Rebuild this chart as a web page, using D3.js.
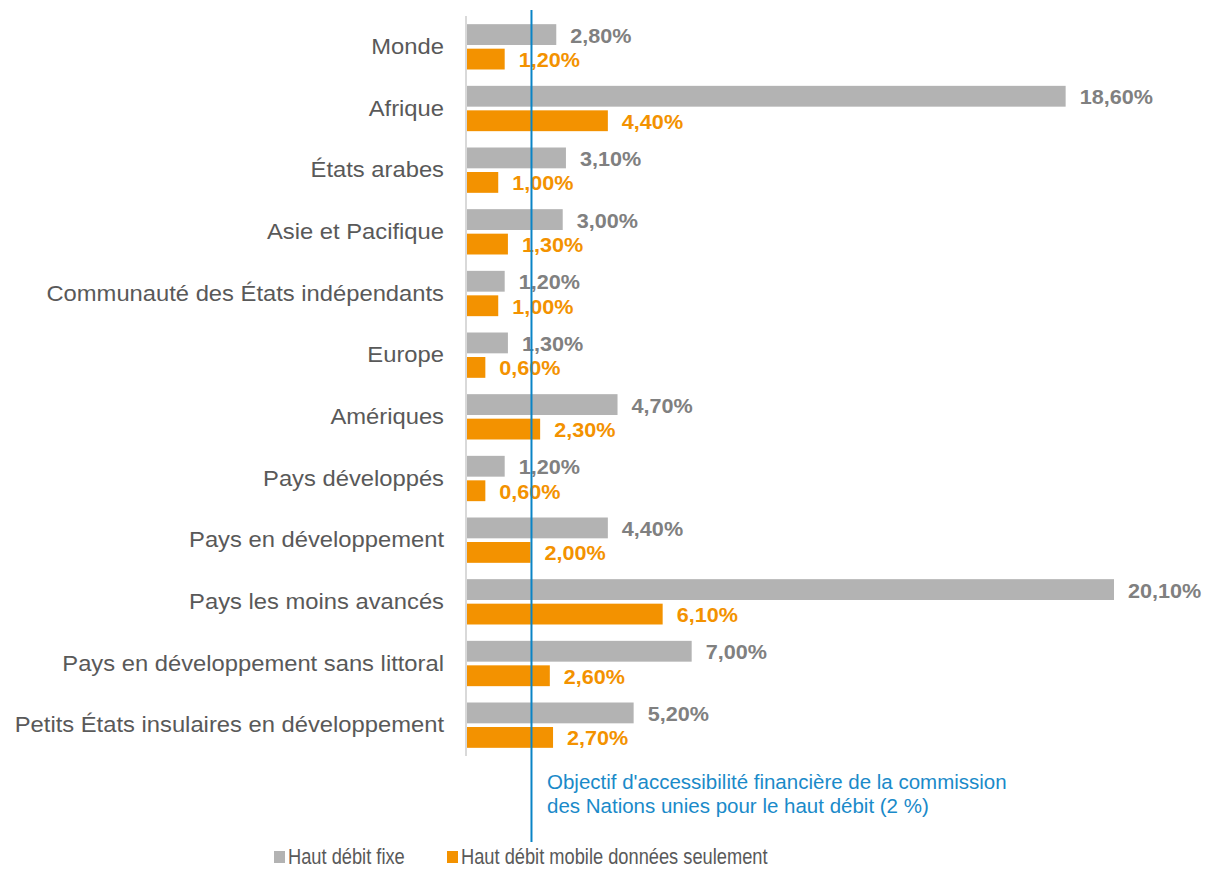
<!DOCTYPE html>
<html>
<head>
<meta charset="utf-8">
<script src="https://cdn.jsdelivr.net/npm/d3@7"></script>
<style>
  html, body { margin: 0; padding: 0; background: #fff; }
  svg { display: block; font-family: "Liberation Sans", Arial, sans-serif; }
</style>
</head>
<body>
<svg id="chart" width="1209" height="869"></svg>
<script>
// Regions and country groupings
const categories = [
  "Monde",
  "Afrique",
  "États arabes",
  "Asie et Pacifique",
  "Communauté des États indépendants",
  "Europe",
  "Amériques",
  "Pays développés",
  "Pays en développement",
  "Pays les moins avancés",
  "Pays en développement sans littoral",
  "Petits États insulaires en développement"
];

// Price as % of GNI per capita
const fixedBroadband = [2.8, 18.6, 3.1, 3.0, 1.2, 1.3, 4.7, 1.2, 4.4, 20.1, 7.0, 5.2];
const mobileDataOnly = [1.2, 4.4, 1.0, 1.3, 1.0, 0.6, 2.3, 0.6, 2.0, 6.1, 2.6, 2.7];

const seriesNames = ["Haut débit fixe", "Haut débit mobile données seulement"];
const seriesColors = ["#b3b3b3", "#f39200"];
const labelColors = ["#808080", "#f39200"];

const targetValue = 2;
const targetText = [
  "Objectif d'accessibilité financière de la commission",
  "des Nations unies pour le haut débit (2 %)"
];

const fmt = v => v.toFixed(2).replace(".", ",") + "%";

const rows = categories.map((c, i) => ({
  cat: c,
  vals: [fixedBroadband[i], mobileDataOnly[i]]
}));

// scale text horizontally by a factor, keeping its anchor
function stretch(sel, k) {
  sel.each(function () {
    const w = this.getComputedTextLength();
    d3.select(this).attr("textLength", w * k).attr("lengthAdjust", "spacingAndGlyphs");
  });
}

const svg = d3.select("#chart");

const x = d3.scaleLinear().domain([0, 20.1]).range([466, 1114]);
const y = d3.scaleBand().domain(categories).range([16, 756])
  .paddingInner(0.265).paddingOuter(0.1325);
const ySub = d3.scaleBand().domain([0, 1]).range([0, y.bandwidth()]).paddingInner(0.15);

// category axis line
svg.append("line")
  .attr("x1", x(0)).attr("x2", x(0))
  .attr("y1", 16).attr("y2", 756)
  .attr("stroke", "#d9d9d9").attr("stroke-width", 2);

// category labels
svg.append("g").selectAll("text")
  .data(categories).join("text")
  .attr("x", 444)
  .attr("y", d => y(d) + y.bandwidth() / 2)
  .attr("dy", "0.33em")
  .attr("text-anchor", "end")
  .attr("font-size", 22)
  .attr("fill", "#595959")
  .text(d => d)
  .call(stretch, 1.08);

// bars
const groups = svg.append("g").selectAll("g")
  .data(rows).join("g")
  .attr("transform", d => `translate(0,${y(d.cat)})`);

groups.selectAll("rect")
  .data(d => d.vals.map((v, k) => ({ v, k })))
  .join("rect")
  .attr("x", x(0) + 1)
  .attr("y", d => ySub(d.k))
  .attr("width", d => x(d.v) - x(0) - 1)
  .attr("height", ySub.bandwidth())
  .attr("fill", d => seriesColors[d.k]);

// target line
svg.append("line")
  .attr("x1", x(targetValue) + 1).attr("x2", x(targetValue) + 1)
  .attr("y1", 10).attr("y2", 842)
  .attr("stroke", "#0a84c6").attr("stroke-width", 2);

// value labels
groups.selectAll("text")
  .data(d => d.vals.map((v, k) => ({ v, k })))
  .join("text")
  .attr("x", d => x(d.v) + 14)
  .attr("y", d => ySub(d.k) + ySub.bandwidth() / 2 + 1)
  .attr("dy", "0.35em")
  .attr("font-size", 20)
  .attr("font-weight", "bold")
  .attr("fill", d => labelColors[d.k])
  .text(d => fmt(d.v))
  .call(stretch, 1.08);

// target annotation
svg.append("text")
  .attr("x", 547).attr("y", 789)
  .attr("font-size", 20.5)
  .attr("fill", "#1a8ac9")
  .selectAll("tspan")
  .data(targetText).join("tspan")
  .attr("x", 547)
  .attr("dy", (d, i) => i === 0 ? 0 : 24)
  .text(d => d);

// legend
const legendX = [274, 447];
const legend = svg.append("g").selectAll("g")
  .data(seriesNames).join("g")
  .attr("transform", (d, i) => `translate(${legendX[i]},0)`);
legend.append("rect")
  .attr("x", 0).attr("y", 851)
  .attr("width", 11).attr("height", 12)
  .attr("fill", (d, i) => seriesColors[i]);
legend.append("text")
  .attr("x", 14).attr("y", 864)
  .attr("font-size", 22)
  .attr("fill", "#595959")
  .text(d => d)
  .call(stretch, 0.83);
</script>
</body>
</html>
